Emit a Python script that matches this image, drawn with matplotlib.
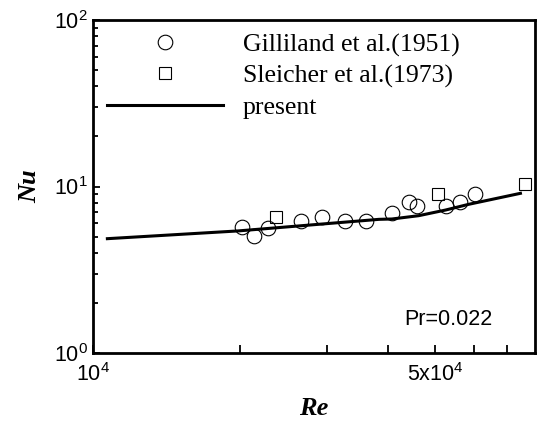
import matplotlib
matplotlib.use('Agg')
import matplotlib.pyplot as plt
from matplotlib.ticker import FixedLocator, FixedFormatter, NullFormatter
import numpy as np

plt.rcParams['font.family'] = 'Liberation Sans'

# Gilliland et al. (1951)
re_gill = [2.02e4, 2.13e4, 2.28e4, 2.66e4, 2.94e4, 3.27e4, 3.61e4,
           4.08e4, 4.42e4, 4.60e4, 5.27e4, 5.62e4, 6.03e4]
nu_gill = [5.69, 5.06, 5.66, 6.21, 6.59, 6.23, 6.23,
           6.90, 8.10, 7.67, 7.64, 8.10, 8.98]

# Sleicher et al. (1973)
re_sle = [2.37e4, 5.07e4, 7.64e4]
nu_sle = [6.59, 8.98, 10.35]

# present calculation
re_cal = [1.07e4, 1.98e4, 3.84e4, 4.08e4, 4.63e4, 5.25e4, 5.86e4, 7.47e4]
nu_cal = [4.86, 5.41, 6.35, 6.38, 6.68, 7.22, 7.82, 9.10]

fig = plt.figure(figsize=(5.38, 4.25), dpi=100)
ax = fig.add_axes([93/538, 72/425, 442/538, 333/425])

ax.plot(re_gill, nu_gill, 'o', mfc='none', mec='black', mew=0.8, ms=10.5,
        label='Gilliland et al.(1951)')
ax.plot(re_sle, nu_sle, 's', mfc='none', mec='black', mew=0.8, ms=8,
        label='Sleicher et al.(1973)')
ax.plot(re_cal, nu_cal, '-', color='black', lw=2.2, label='present')

ax.set_xscale('log')
ax.set_yscale('log')
ax.set_xlim(1e4, 8e4)
ax.set_ylim(1, 100)

ax.xaxis.set_major_locator(FixedLocator([1e4, 5e4]))
ax.xaxis.set_major_formatter(FixedFormatter([r'$\mathdefault{10^{4}}$',
                                             r'$\mathdefault{5x10^{4}}$']))
ax.xaxis.set_minor_locator(FixedLocator([2e4, 3e4, 4e4, 6e4, 7e4]))
ax.xaxis.set_minor_formatter(NullFormatter())

ax.tick_params(axis='both', which='both', direction='in', top=False, right=False,
               labelsize=15.5, width=1.3, color='black')
ax.tick_params(axis='x', which='both', length=5.5, pad=7)
ax.tick_params(axis='y', which='major', length=5, pad=3.5)
ax.tick_params(axis='y', which='minor', length=3.6)

for s in ax.spines.values():
    s.set_linewidth(2)

ax.set_xlabel('Re', fontfamily='Liberation Serif', style='italic',
              fontweight='bold', fontsize=19, labelpad=8)
ax.set_ylabel('Nu', fontfamily='Liberation Serif', style='italic',
              fontweight='bold', fontsize=19, labelpad=9)

ax.text(0.805, 0.10, 'Pr=0.022', transform=ax.transAxes, fontsize=15.5,
        ha='center', va='center')

ax.legend(loc='upper left', bbox_to_anchor=(14/442, 0.96), frameon=False,
          prop={'family': 'Liberation Serif', 'size': 18.5},
          handlelength=4.5, handletextpad=0.78, labelspacing=0.3,
          borderpad=0, borderaxespad=0, numpoints=1)

fig.savefig('out.png', dpi=100)
